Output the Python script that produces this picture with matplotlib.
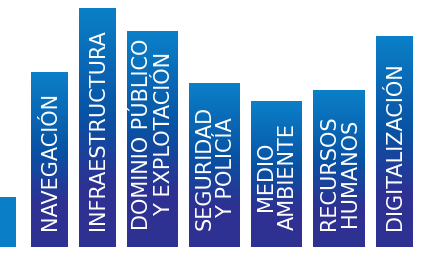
import numpy as np
import matplotlib
matplotlib.use("Agg")
import matplotlib.pyplot as plt
from matplotlib.colors import LinearSegmentedColormap

# Bar labels (first bar is cut off at the left edge, no visible label)
labels = [
    "",
    "NAVEGACIÓN",
    "INFRAESTRUCTURA",
    "DOMINIO PÚBLICO\nY EXPLOTACIÓN",
    "SEGURIDAD\nY POLICÍA",
    "MEDIO\nAMBIENTE",
    "RECURSOS\nHUMANOS",
    "DIGITALIZACIÓN",
]
values = [50, 175, 239, 216, 164, 146, 157, 211]

W, H = 428, 255
base = 7  # bars sit a little above the bottom edge
gap = 11
first_right = 16

grad = LinearSegmentedColormap.from_list(
    "bar", [(0.0, "#0b80c8"), (0.45, "#0852a4"), (0.75, "#2e3192"), (1.0, "#2e3192")]
)

fig = plt.figure(figsize=(W / 100, H / 100), dpi=100)
ax = fig.add_axes([0, 0, 1, 1])  # ax covers the whole figure

# widths: two-line labels get wider bars
widths = np.array([37 if "\n" not in lab else 51 for lab in labels], dtype=float)
widths[-2] = 52
lefts = np.zeros(len(labels))
lefts[0] = first_right - widths[0]
lefts[1] = 31
for i in range(2, len(labels)):
    lefts[i] = lefts[i - 1] + widths[i - 1] + gap

bars = ax.bar(lefts, values, width=widths, bottom=base, align="edge",
              color="none", edgecolor="none")

for i, (rect, lab) in enumerate(zip(bars, labels)):
    x0, y0 = rect.get_x(), rect.get_y()
    x1, y1 = x0 + rect.get_width(), y0 + rect.get_height()
    if i == 0:
        ax.add_patch(plt.Rectangle((x0, y0), x1 - x0, y1 - y0, color="#0a7fc7", lw=0))
    else:
        g = np.linspace(0, 1, 256).reshape(-1, 1)
        ax.imshow(g, cmap=grad, extent=[x0, x1, y0, y1], origin="upper",
                  aspect="auto", interpolation="bilinear")
    if lab:
        ax.text((x0 + x1) / 2 + 0.5, y0 + 18, lab, rotation=90, ha="center", va="bottom",
                multialignment="center", color="white", fontsize=15,
                linespacing=1.1, family="DejaVu Sans")

ax.set_xlim(0, W)
ax.set_ylim(0, H)
ax.axis("off")

fig.savefig("out.png", dpi=100, facecolor="white")
